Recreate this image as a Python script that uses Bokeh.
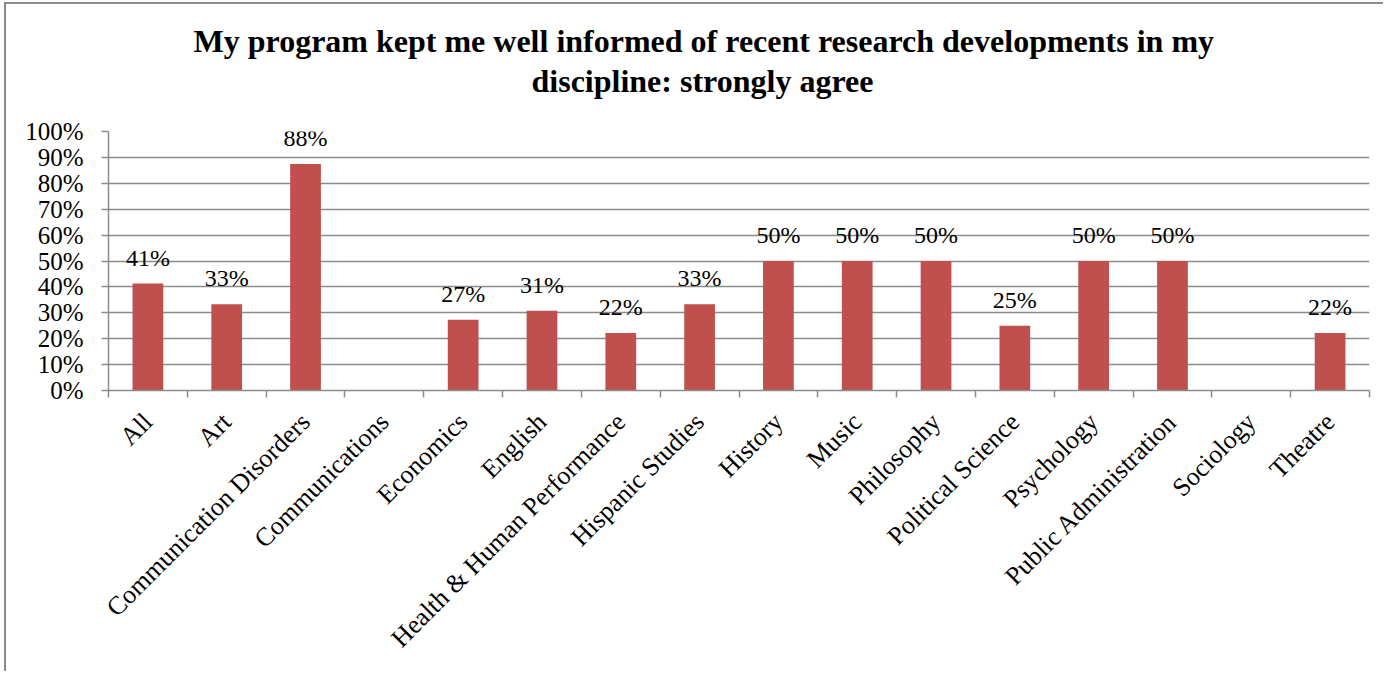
from math import pi
from bokeh.plotting import figure
from bokeh.models import Range1d, FixedTicker, ColumnDataSource, Title, PrintfTickFormatter
from bokeh.core.properties import value
from bokeh.embed import file_html
from bokeh.resources import INLINE

title_lines = ["My program kept me well informed of recent research developments in my",
               "discipline: strongly agree"]
categories = ["All", "Art", "Communication Disorders", "Communications", "Economics", "English",
              "Health & Human Performance", "Hispanic Studies", "History", "Music", "Philosophy",
              "Political Science", "Psychology", "Public Administration", "Sociology", "Theatre"]
values = [41.3, 33.3, 87.5, 0, 27.3, 30.8, 22.2, 33.3, 50, 50, 50, 25, 50, 50, 0, 22.2]
value_labels = ["41%", "33%", "88%", "", "27%", "31%", "22%", "33%", "50%", "50%", "50%",
                "25%", "50%", "50%", "", "22%"]
y_ticks = [0, 10, 20, 30, 40, 50, 60, 70, 80, 90, 100]

FONT = "Liberation Serif"
GRID = "#8c8c8c"
BAR = "#C0504D"

n = len(categories)
centers = [i + 0.5 for i in range(n)]
bounds = list(range(n + 1))

p = figure(frame_width=1261, frame_height=259, output_backend="svg", toolbar_location=None,
           x_range=Range1d(0, n), y_range=Range1d(0, 100),
           min_border_left=102, min_border_right=14, min_border_top=127, min_border_bottom=281)
p.styles = {"border-left": "2px solid #8c8c8c", "border-top": "2px solid #8c8c8c",
            "margin-left": "4px", "margin-top": "2px"}
p.outline_line_color = None
p.background_fill_color = "white"
p.border_fill_color = "white"

src = ColumnDataSource(dict(x=centers, top=values, lab=value_labels))
p.vbar(x="x", top="top", bottom=0, width=0.39, source=src, fill_color=BAR, line_color=None)
p.text(x="x", y="top", text="lab", source=src, text_align="center", text_baseline="alphabetic",
       y_offset=-26, text_font=value(FONT), text_font_size="24px", text_color="black")

# axes
p.xgrid.visible = False
p.ygrid.ticker = FixedTicker(ticks=y_ticks)
p.ygrid.grid_line_color = GRID
p.ygrid.grid_line_width = 1.5

ya = p.yaxis[0]
ya.ticker = FixedTicker(ticks=y_ticks)
ya.formatter = PrintfTickFormatter(format="%d%%")
ya.axis_line_color = GRID
ya.axis_line_width = 1.5
ya.major_tick_line_color = GRID
ya.major_tick_line_width = 1.5
ya.major_tick_in = 0
ya.major_tick_out = 7
ya.minor_tick_line_color = None
ya.major_label_standoff = 18
ya.major_label_text_font = FONT
ya.major_label_text_font_size = "25px"
ya.major_label_text_color = "black"

xa = p.xaxis[0]
xa.ticker = FixedTicker(ticks=centers, minor_ticks=bounds)
xa.major_label_overrides = {c: lab for c, lab in zip(centers, categories)}
xa.axis_line_color = GRID
xa.axis_line_width = 1.5
xa.major_tick_line_color = None
xa.minor_tick_line_color = GRID
xa.minor_tick_line_width = 1.5
xa.minor_tick_in = 0
xa.minor_tick_out = 7
xa.major_label_orientation = pi / 4
xa.major_label_standoff = 20
xa.major_label_text_font = FONT
xa.major_label_text_font_size = "26px"
xa.major_label_text_color = "black"

# title: two centred lines (second line added first so it sits nearest the plot)
t2 = Title(text=title_lines[1], align="left", offset=423, text_font=FONT, text_font_size="32px",
           text_font_style="bold", text_color="black", standoff=66)
t1 = Title(text=title_lines[0], align="left", offset=85, text_font=FONT, text_font_size="32px",
           text_font_style="bold", text_color="black", standoff=-62)
p.add_layout(t2, "above")
p.add_layout(t1, "above")

open("out.html", "w").write(file_html(p, INLINE))
